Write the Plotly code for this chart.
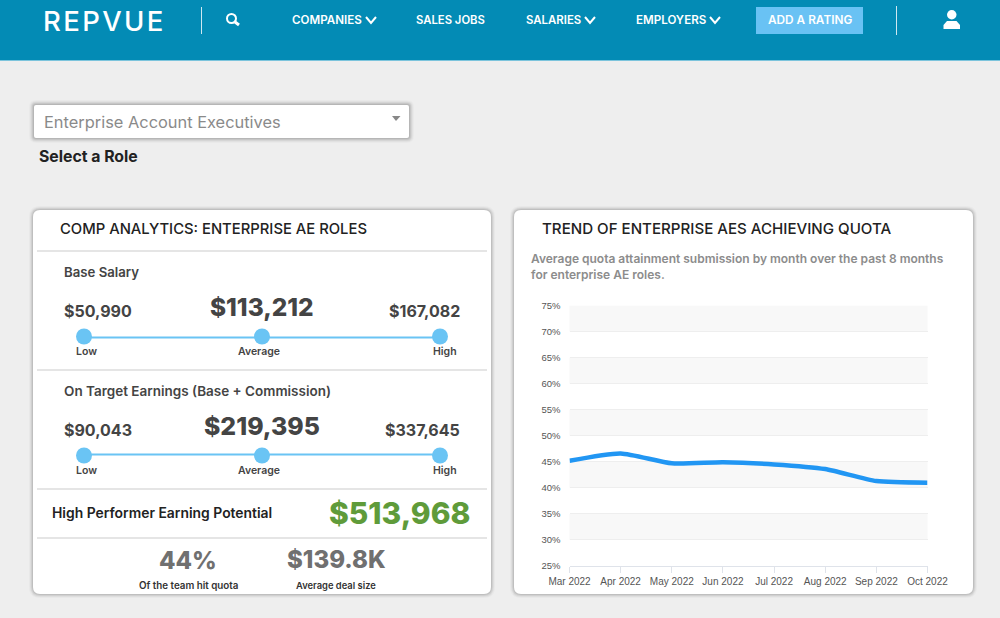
import plotly.graph_objects as go

# chart data
months = ['Mar 2022', 'Apr 2022', 'May 2022', 'Jun 2022', 'Jul 2022', 'Aug 2022', 'Sep 2022', 'Oct 2022']
attainment = [45.2, 46.6, 44.7, 44.9, 44.5, 43.6, 41.3, 41.0]
y_ticks = [25, 30, 35, 40, 45, 50, 55, 60, 65, 70, 75]
band_starts = [30, 40, 50, 60, 70]

slider_stops = ['Low', 'Average', 'High']
slider_roles = ['Base Salary', 'On Target Earnings']
base_salary = ['$50,990', '$113,212', '$167,082']
on_target = ['$90,043', '$219,395', '$337,645']
high_performer = '$513,968'
hit_quota = '44%'
deal_size = '$139.8K'

nav_items = ['COMPANIES', 'SALES JOBS', 'SALARIES', 'EMPLOYERS']

FONT = 'Inter'
W, H = 1000, 618
shapes = []
notes = []


def px(x):
    return x / W


def py(y):
    return 1 - y / H


def text(x, y, s, size, color='#444444', anchor='left', weight=400, family=FONT):
    notes.append(dict(x=px(x), y=py(y), xref='paper', yref='paper', text=s, showarrow=False,
                      xanchor=anchor, yanchor='middle', borderpad=0, borderwidth=0,
                      font=dict(family=family, size=size, color=color, weight=weight)))


def rect(x0, y0, x1, y1, fill):
    shapes.append(dict(type='rect', xref='paper', yref='paper', layer='below',
                       x0=px(x0), x1=px(x1), y0=py(y0), y1=py(y1),
                       fillcolor=fill, line=dict(width=0)))


def path(d, fill='rgba(0,0,0,0)', color='rgba(0,0,0,0)', width=0):
    # d is a list of (cmd, x, y) in page pixels
    out = ''
    for cmd, x, y in d:
        out += cmd + ' ' + str(round(px(x), 5)) + ' ' + str(round(py(y), 5)) + ' '
    if fill != 'rgba(0,0,0,0)':
        out += 'Z'
    shapes.append(dict(type='path', xref='paper', yref='paper', layer='below', path=out,
                       fillcolor=fill, line=dict(color=color, width=width)))


def card(x0, y0, x1, y1, r=7):
    for grow, alpha in [(4, 0.025), (3, 0.04), (2, 0.06), (1, 0.08)]:
        round_rect(x0 - grow, y0 - grow, x1 + grow, y1 + grow, r + grow, 'rgba(0,0,0,%s)' % alpha)
    round_rect(x0, y0, x1, y1, r, 'white')


def round_rect(x0, y0, x1, y1, r, fill):
    def X(v):
        return round(px(v), 5)

    def Y(v):
        return round(py(v), 5)

    d = 'M %s %s L %s %s Q %s %s %s %s L %s %s Q %s %s %s %s L %s %s Q %s %s %s %s L %s %s Q %s %s %s %s Z' % (
        X(x0 + r), Y(y0), X(x1 - r), Y(y0), X(x1), Y(y0), X(x1), Y(y0 + r),
        X(x1), Y(y1 - r), X(x1), Y(y1), X(x1 - r), Y(y1),
        X(x0 + r), Y(y1), X(x0), Y(y1), X(x0), Y(y1 - r),
        X(x0), Y(y0 + r), X(x0), Y(y0), X(x0 + r), Y(y0))
    shapes.append(dict(type='path', xref='paper', yref='paper', layer='below', path=d,
                       fillcolor=fill, line=dict(width=0)))


def chevron(x, y):
    path([('M', x - 5, y - 3), ('L', x, y + 3), ('L', x + 5, y - 3)], color='white', width=2)


# header
rect(0, 0, W, 60, '#038bb5')
rect(0, 60, W, 61, '#7cc4dc')
text(43, 21, '\u200a'.join('REPVUE'), 27.5, 'white', weight=500)
rect(201, 7, 202, 34, '#cfe8f1')
rect(896, 6, 897, 35, '#cfe8f1')
shapes.append(dict(type='circle', xref='paper', yref='paper', layer='below',
                   x0=px(227), x1=px(236), y0=py(23), y1=py(14), line=dict(color='white', width=2)))
path([('M', 235, 22), ('L', 239, 25)], color='white', width=3)
text(292, 20, nav_items[0], 11.6, 'white', weight=600)
chevron(371, 20)
text(416, 20, nav_items[1], 11.3, 'white', weight=600)
text(526, 20, nav_items[2], 11.4, 'white', weight=600)
chevron(590, 20)
text(636, 20, nav_items[3], 11.6, 'white', weight=600)
chevron(715, 20)
rect(756, 7, 863, 34, '#69c2f4')
text(809.5, 20, 'ADD A RATING', 11.8, 'white', anchor='center', weight=600)
# user icon
shapes.append(dict(type='circle', xref='paper', yref='paper', layer='below',
                   x0=px(947), x1=px(956.5), y0=py(19.5), y1=py(10), fillcolor='white', line=dict(width=0)))
path([('M', 943.5, 29), ('L', 943.5, 25), ('L', 947, 21), ('L', 956.5, 21), ('L', 960, 25), ('L', 960, 29)], fill='white')

# role selector
for grow, alpha in [(5, 0.02), (4, 0.03), (3, 0.05), (2, 0.07), (1, 0.08)]:
    round_rect(34 - grow, 105 - grow, 409 + grow, 138 + grow, 2 + grow, 'rgba(0,0,0,%s)' % alpha)
round_rect(34, 105, 409, 138, 2, 'white')
text(44, 121.5, 'Enterprise Account Executives', 16.4, '#8a8a8a')
path([('M', 392, 116), ('L', 400.5, 116), ('L', 396, 121)], fill='#888888')
text(39, 156.5, 'Select a Role', 15.8, '#222222', weight=700)

# comp analytics card
card(33, 210, 491, 594)
text(60, 228.5, 'COMP ANALYTICS: ENTERPRISE AE ROLES', 14.8, '#222222', weight=500)
for yy in [251, 370, 489, 538]:
    rect(37, yy - 0.75, 487, yy + 0.75, '#dddddd')

text(64, 272, 'Base Salary', 13.2, '#444444', weight=600)
text(64, 311, base_salary[0], 16, weight=700)
text(261.5, 307, base_salary[1], 24.4, anchor='center', weight=800)
text(460, 311, base_salary[2], 16, anchor='right', weight=700)
for xx, s, anc in [(76, 'Low', 'left'), (259, 'Average', 'center'), (457, 'High', 'right')]:
    text(xx, 351.5, s, 10.5, weight=600, anchor=anc)
    text(xx, 470.5, s, 10.5, weight=600, anchor=anc)

text(64, 391, 'On Target Earnings (Base + Commission)', 13.5, '#444444', weight=600)
text(64, 430, on_target[0], 16, weight=700)
text(261.5, 426, on_target[1], 24.8, anchor='center', weight=800)
text(460, 430, on_target[2], 16, anchor='right', weight=700)

text(52, 512.5, 'High Performer Earning Potential', 13.9, '#222222', weight=600)
text(470, 513, high_performer, 30, '#5f9b3a', anchor='right', weight=800)
text(188, 560, hit_quota, 24, '#707070', anchor='center', weight=800)
text(336, 559.5, deal_size, 24, '#707070', anchor='center', weight=800)
text(188, 585.5, 'Of the team hit quota', 9.8, '#333333', anchor='center', weight=600)
text(336, 585.5, 'Average deal size', 9.4, '#333333', anchor='center', weight=600)

# trend card
card(514, 210, 973, 594)
text(542, 228.5, 'TREND OF ENTERPRISE AES ACHIEVING QUOTA', 15.1, '#222222', weight=500)
text(531, 258, 'Average quota attainment submission by month over the past 8 months', 12, '#8c8c8c', weight=600)
text(531, 274.5, 'for enterprise AE roles.', 12, '#8c8c8c', weight=600)

# alternate bands behind the grid
for b in band_starts:
    shapes.append(dict(type='rect', xref='x domain', yref='y', layer='below', x0=0, x1=1,
                       y0=b, y1=b + 5, fillcolor='#f8f8f8', line=dict(width=0)))

fig = go.Figure()
fig.add_trace(go.Scatter(x=months, y=attainment, mode='lines', cliponaxis=False,
                         line=dict(color='#2196f3', width=4.5, shape='spline', smoothing=0.6),
                         showlegend=False, hoverinfo='skip'))

# sliders, one row per role on their own category axes
for role in slider_roles:
    fig.add_trace(go.Scatter(x=slider_stops, y=[role] * len(slider_stops), xaxis='x2', yaxis='y2',
                             mode='lines+markers', cliponaxis=False,
                             line=dict(color='#6ac4f4', width=4),
                             marker=dict(color='#6ac4f4', size=16),
                             showlegend=False, hoverinfo='skip'))

fig.update_layout(
    width=W, height=H, margin=dict(l=0, r=0, t=0, b=0, pad=0), autosize=False,
    paper_bgcolor='#eeeeee', plot_bgcolor='rgba(0,0,0,0)',
    shapes=shapes, annotations=notes,
    xaxis=dict(domain=[px(569.5), px(927.5)], type='category', categoryorder='array',
               categoryarray=months, range=[0, 7], showgrid=False, zeroline=False, automargin=False,
               showline=True, linecolor='#dfe3ea', linewidth=1,
               ticks='outside', ticklen=6, tickcolor='#dfe3ea', tickwidth=1,
               tickfont=dict(family='Liberation Sans', size=10, color='#555555')),
    yaxis=dict(domain=[py(566), py(305.5)], range=[25, 75], tickvals=y_ticks, automargin=False,
               ticktext=[str(v) + '%' for v in y_ticks], showgrid=True, gridcolor='#eeeeee',
               gridwidth=1, zeroline=False, showline=False, ticks='', ticklabelstandoff=8,
               tickfont=dict(family='Liberation Sans', size=9.5, color='#555555')),
    xaxis2=dict(domain=[px(84), px(440)], type='category', categoryorder='array', automargin=False,
                categoryarray=slider_stops, range=[0, 2], visible=False, anchor='y2'),
    yaxis2=dict(domain=[py(455.5), py(336.5)], type='category', categoryorder='array', automargin=False,
                categoryarray=slider_roles[::-1], range=[0, 1], visible=False, anchor='x2'),
)

fig.write_html("out.html", config=dict(displayModeBar=False),
               post_script="document.body.style.margin='0';document.documentElement.style.overflow='hidden';")
